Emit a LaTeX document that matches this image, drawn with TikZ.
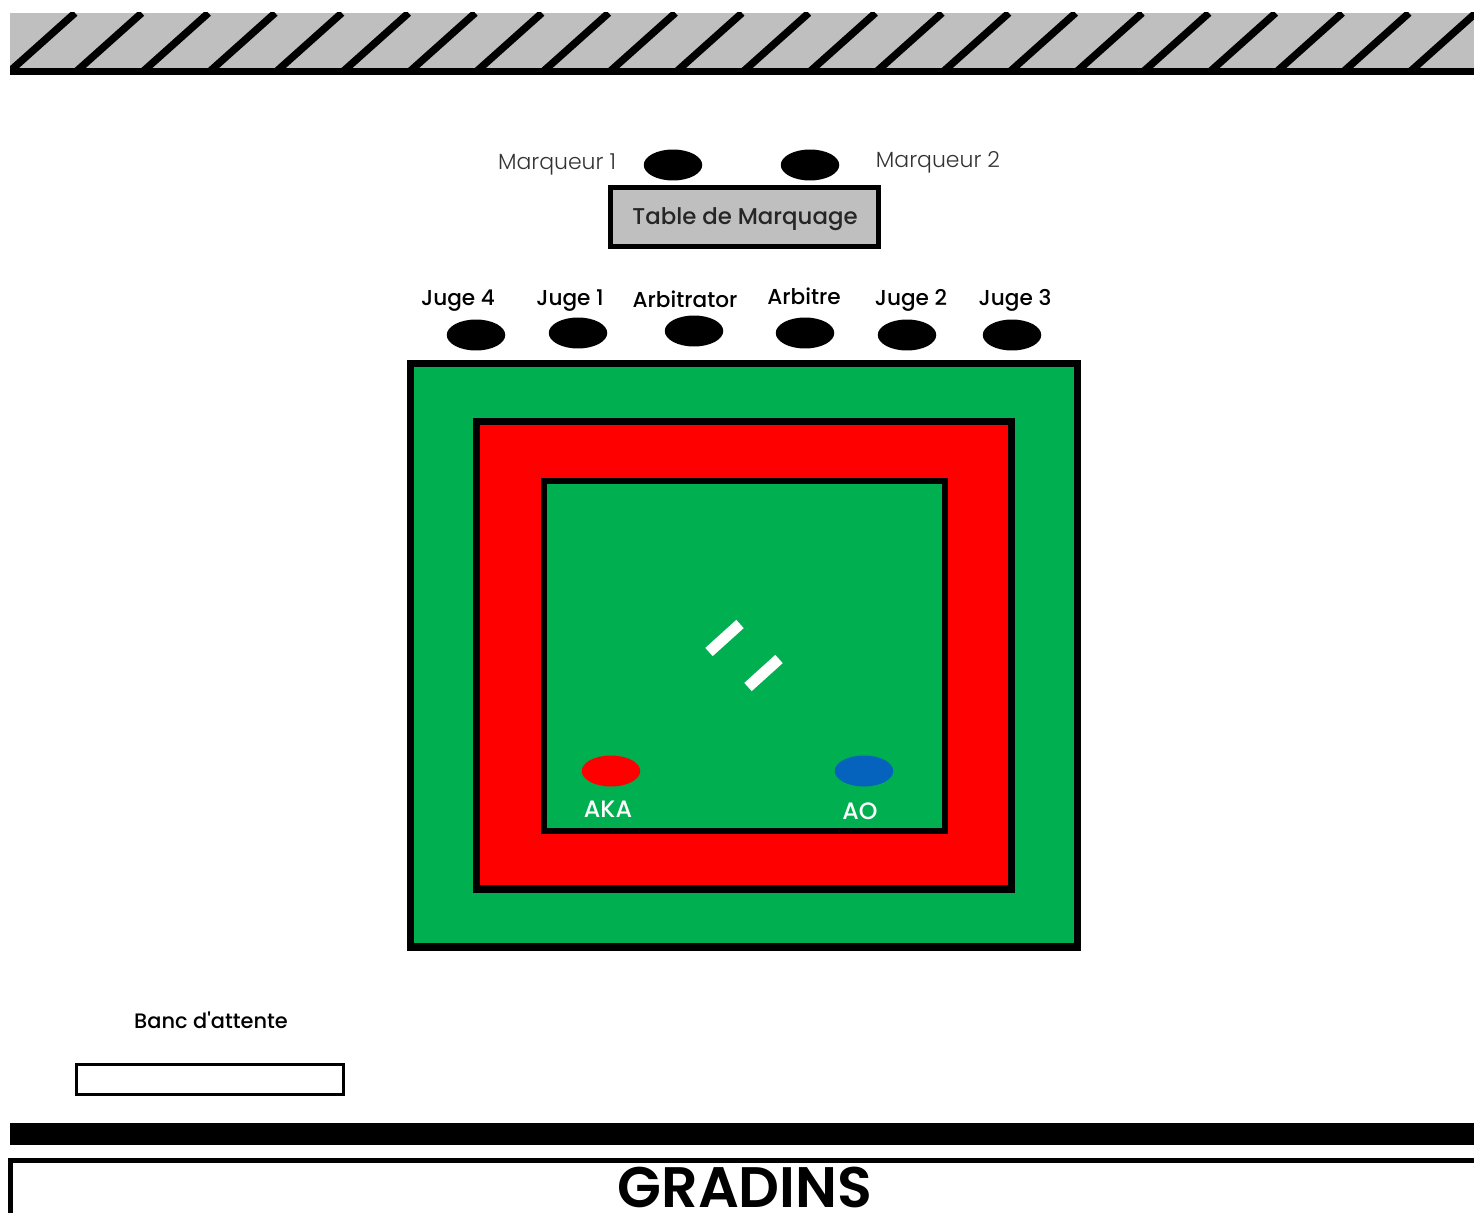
\documentclass[tikz,border=0pt]{standalone}
\usepackage{fontspec}
\setmainfont{Poppins}
\newfontfamily\lightfont{Poppins Light}
\newfontfamily\mediumfont{Poppins Medium}
\newfontfamily\semifont{Poppins SemiBold}
\usetikzlibrary{shapes.geometric}
\definecolor{Tapis}{HTML}{00AF50}
\definecolor{Danger}{HTML}{FF0000}
\definecolor{Ao}{HTML}{0563BD}
\definecolor{Mur}{HTML}{BFBFBF}
\tikzset{
    seat/.style={ellipse, fill=black, inner sep=0pt, minimum width=1.17cm, minimum height=0.62cm},
    nom/.style={font=\mediumfont\fontsize{12.3}{14}\selectfont, inner sep=0pt},
    marqueur/.style={font=\lightfont\fontsize{12.5}{14}\selectfont, text=black!80, inner sep=0pt},
    blanc/.style={font=\mediumfont\fontsize{13.5}{15}\selectfont, text=white, inner sep=0pt},
    zone/.style={draw=black, line width=4pt, line join=miter},
    ligne/.style={line width=6.3pt, white, line cap=butt},
}
\begin{document}
\begin{tikzpicture}[x=0.02cm, y=-0.02cm]
                \useasboundingbox (0,0) rectangle (1474,1213);

                % Mur
                \fill[Mur] (10,13) rectangle (1474,70);
                \begin{scope}
                    \clip (10,13) rectangle (1474,74);
                    \foreach \i in {0,...,22} {
                        \draw[line width=4.2pt] ({9+66.7*\i},72) -- ({75+66.7*\i},13);
                    }
                \end{scope}
                \fill[black] (10,68) rectangle (1474,75);

                % Table de marquage
                \draw[zone, line width=2.8pt, fill=Mur] (610.5,187.5) rectangle (878.5,246.5);
                \node[font=\mediumfont\fontsize{13}{15}\selectfont, text=black!85, inner sep=0pt] (table) at (745,219) {Table de Marquage};
                \node[seat] (m1) at (673,165) {};
                \node[seat] (m2) at (810,165) {};
                \node[marqueur] (lm1) at (557,164) {Marqueur 1};
                \node[marqueur] (lm2) at (938,162) {Marqueur 2};

                % Juges
                \foreach \name/\x/\y/\lab/\lx/\ly in {j4/476/335/Juge 4/458/301, j1/578/333/Juge 1/570/301, at/694/331/Arbitrator/685/299, ar/805/333/Arbitre/804/296, j2/907/335/Juge 2/911/300, j3/1012/335/Juge 3/1015/300} {
                    \node[seat] (\name) at (\x,\y) {};
                    \node[nom] (l\name) at (\lx,\ly) {\lab};
                }

                % Tatami
                \draw[zone, fill=Tapis] (410.5,363.5) rectangle (1077.5,947);
                \draw[zone, fill=Danger] (476.5,421.5) rectangle (1011.5,889);
                \draw[zone, line width=3.4pt, fill=Tapis] (544,481) rectangle (945,831);

                % Lignes blanches
                \draw[ligne] (740,624) -- (709,652);
                \draw[ligne] (779,659) -- (748,687);

                % Combattants
                \node[seat, fill=Danger] (aka) at (611,771) {};
                \node[seat, fill=Ao] (ao) at (864,771) {};
                \node[blanc] (laka) at (608,809) {AKA};
                \node[blanc] (lao) at (860,811) {AO};

                % Banc
                \node[nom, font=\mediumfont\fontsize{11.9}{14}\selectfont] (banc) at (211,1020) {Banc d'attente};
                \draw[line width=1.7pt] (76.5,1064.5) rectangle (343.5,1094);

                % Gradins
                \fill[black] (10,1123) rectangle (1474,1145);
                \draw[line width=2.8pt] (10.5,1213) -- (10.5,1160.5) -- (1474,1160.5);
                \node[font=\semifont\fontsize{32.5}{36}\selectfont, inner sep=0pt] (gradins) at (745,1187) {GRADINS};
            \end{tikzpicture}
\end{document}
